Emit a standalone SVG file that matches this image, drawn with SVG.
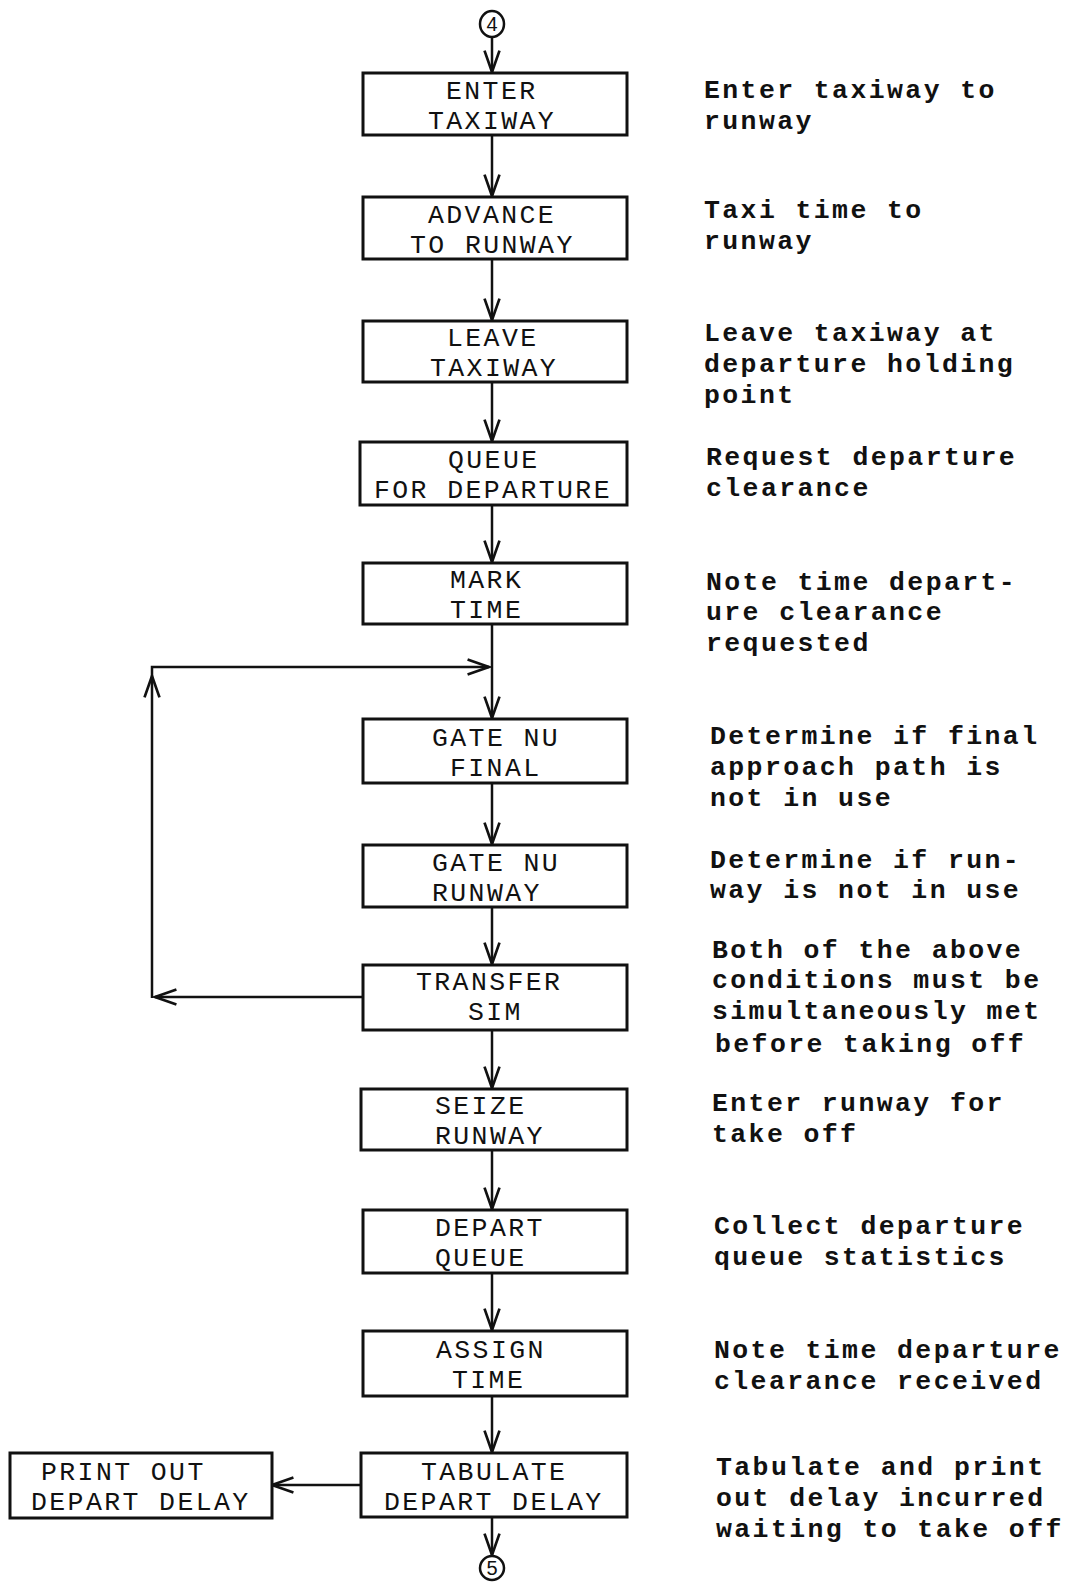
<svg xmlns="http://www.w3.org/2000/svg" width="1068" height="1582" viewBox="0 0 1068 1582">
<style>
.box{fill:#fff;stroke:#111;stroke-width:3}
.lbl{font-family:"Liberation Mono","DejaVu Sans Mono",monospace;font-size:26.5px;letter-spacing:2.4px;fill:#111}
.desc{font-family:"Liberation Mono","DejaVu Sans Mono",monospace;font-size:26.5px;letter-spacing:2.4px;font-weight:bold;fill:#111}
.con{fill:none;stroke:#111;stroke-width:2.5}
.term{fill:#fff;stroke:#111;stroke-width:2.5}
.tnum{font-family:"Liberation Sans","DejaVu Sans",sans-serif;font-size:20px;fill:#111;text-anchor:middle}
</style>
<defs>
<marker id="ah" markerUnits="userSpaceOnUse" markerWidth="30" markerHeight="30" viewBox="-24 -12 28 24" refX="0" refY="0" orient="auto">
<path d="M-20,-7 L0,0 L-20,7" fill="none" stroke="#111" stroke-width="2.5"/>
</marker>
</defs>
<rect width="1068" height="1582" fill="#fff"/>

<g id="connectors">
<path class="con" d="M492,38 L492,72" marker-end="url(#ah)"/>
<path class="con" d="M492,135 L492,196" marker-end="url(#ah)"/>
<path class="con" d="M492,259 L492,320" marker-end="url(#ah)"/>
<path class="con" d="M492,382 L492,441" marker-end="url(#ah)"/>
<path class="con" d="M492,505 L492,562" marker-end="url(#ah)"/>
<path class="con" d="M492,624 L492,718" marker-end="url(#ah)"/>
<path class="con" d="M492,783 L492,844" marker-end="url(#ah)"/>
<path class="con" d="M492,907 L492,964" marker-end="url(#ah)"/>
<path class="con" d="M492,1030 L492,1088" marker-end="url(#ah)"/>
<path class="con" d="M492,1150 L492,1209" marker-end="url(#ah)"/>
<path class="con" d="M492,1273 L492,1330" marker-end="url(#ah)"/>
<path class="con" d="M492,1396 L492,1452" marker-end="url(#ah)"/>
<path class="con" d="M492,1517 L492,1555" marker-end="url(#ah)"/>
<path class="con" d="M363,997 L155,997" marker-end="url(#ah)"/>
<path class="con" d="M152,998 L152,676" marker-end="url(#ah)"/>
<path class="con" d="M152,676 L152,667 L489,667" marker-end="url(#ah)"/>
<path class="con" d="M363,1485 L272,1485" marker-end="url(#ah)"/>
</g>

<g id="start">
<ellipse class="term" cx="492" cy="24" rx="12" ry="13"/>
<text class="tnum" x="492" y="31">4</text>
</g>

<g id="enter-taxiway">
<rect class="box" x="363" y="73" width="264" height="62"/>
<text class="lbl" x="446" y="99">ENTER</text>
<text class="lbl" x="428" y="129">TAXIWAY</text>
</g>
<g id="advance-to-runway">
<rect class="box" x="363" y="197" width="264" height="62"/>
<text class="lbl" x="428" y="223">ADVANCE</text>
<text class="lbl" x="410" y="253">TO RUNWAY</text>
</g>
<g id="leave-taxiway">
<rect class="box" x="363" y="321" width="264" height="61"/>
<text class="lbl" x="447" y="346">LEAVE</text>
<text class="lbl" x="430" y="376">TAXIWAY</text>
</g>
<g id="queue-for-departure">
<rect class="box" x="360" y="442" width="267" height="63"/>
<text class="lbl" x="448" y="468">QUEUE</text>
<text class="lbl" x="374" y="498">FOR DEPARTURE</text>
</g>
<g id="mark-time">
<rect class="box" x="363" y="563" width="264" height="61"/>
<text class="lbl" x="450" y="588">MARK</text>
<text class="lbl" x="450" y="618">TIME</text>
</g>
<g id="gate-nu-final">
<rect class="box" x="363" y="719" width="264" height="64"/>
<text class="lbl" x="432" y="746">GATE NU</text>
<text class="lbl" x="450" y="776">FINAL</text>
</g>
<g id="gate-nu-runway">
<rect class="box" x="363" y="845" width="264" height="62"/>
<text class="lbl" x="432" y="871">GATE NU</text>
<text class="lbl" x="432" y="901">RUNWAY</text>
</g>
<g id="transfer-sim">
<rect class="box" x="363" y="965" width="264" height="65"/>
<text class="lbl" x="416" y="990">TRANSFER</text>
<text class="lbl" x="468" y="1020">SIM</text>
</g>
<g id="seize-runway">
<rect class="box" x="361" y="1089" width="266" height="61"/>
<text class="lbl" x="435" y="1114">SEIZE</text>
<text class="lbl" x="435" y="1144">RUNWAY</text>
</g>
<g id="depart-queue">
<rect class="box" x="363" y="1210" width="264" height="63"/>
<text class="lbl" x="435" y="1236">DEPART</text>
<text class="lbl" x="435" y="1266">QUEUE</text>
</g>
<g id="assign-time">
<rect class="box" x="363" y="1331" width="264" height="65"/>
<text class="lbl" x="436" y="1358">ASSIGN</text>
<text class="lbl" x="452" y="1388">TIME</text>
</g>
<g id="tabulate-depart-delay">
<rect class="box" x="361" y="1453" width="266" height="64"/>
<text class="lbl" x="421" y="1480">TABULATE</text>
<text class="lbl" x="384" y="1510">DEPART DELAY</text>
</g>
<g id="print-out-depart-delay">
<rect class="box" x="10" y="1453" width="262" height="65"/>
<text class="lbl" x="41" y="1480">PRINT OUT</text>
<text class="lbl" x="31" y="1510">DEPART DELAY</text>
</g>

<g id="end">
<ellipse class="term" cx="492" cy="1568" rx="12" ry="12"/>
<text class="tnum" x="492" y="1575">5</text>
</g>

<g id="notes">
<text class="desc" x="704" y="98">Enter taxiway to</text>
<text class="desc" x="704" y="129">runway</text>
<text class="desc" x="704" y="218">Taxi time to</text>
<text class="desc" x="704" y="249">runway</text>
<text class="desc" x="704" y="341">Leave taxiway at</text>
<text class="desc" x="704" y="372">departure holding</text>
<text class="desc" x="704" y="403">point</text>
<text class="desc" x="706" y="465">Request departure</text>
<text class="desc" x="706" y="496">clearance</text>
<text class="desc" x="706" y="590">Note time depart-</text>
<text class="desc" x="706" y="620">ure clearance</text>
<text class="desc" x="706" y="651">requested</text>
<text class="desc" x="710" y="744">Determine if final</text>
<text class="desc" x="710" y="775">approach path is</text>
<text class="desc" x="710" y="806">not in use</text>
<text class="desc" x="710" y="868">Determine if run-</text>
<text class="desc" x="710" y="898">way is not in use</text>
<text class="desc" x="712" y="958">Both of the above</text>
<text class="desc" x="712" y="988">conditions must be</text>
<text class="desc" x="712" y="1019">simultaneously met</text>
<text class="desc" x="715" y="1052">before taking off</text>
<text class="desc" x="712" y="1111">Enter runway for</text>
<text class="desc" x="712" y="1142">take off</text>
<text class="desc" x="714" y="1234">Collect departure</text>
<text class="desc" x="714" y="1265">queue statistics</text>
<text class="desc" x="714" y="1358">Note time departure</text>
<text class="desc" x="714" y="1389">clearance received</text>
<text class="desc" x="716" y="1475">Tabulate and print</text>
<text class="desc" x="716" y="1506">out delay incurred</text>
<text class="desc" x="716" y="1537">waiting to take off</text>
</g>
</svg>
